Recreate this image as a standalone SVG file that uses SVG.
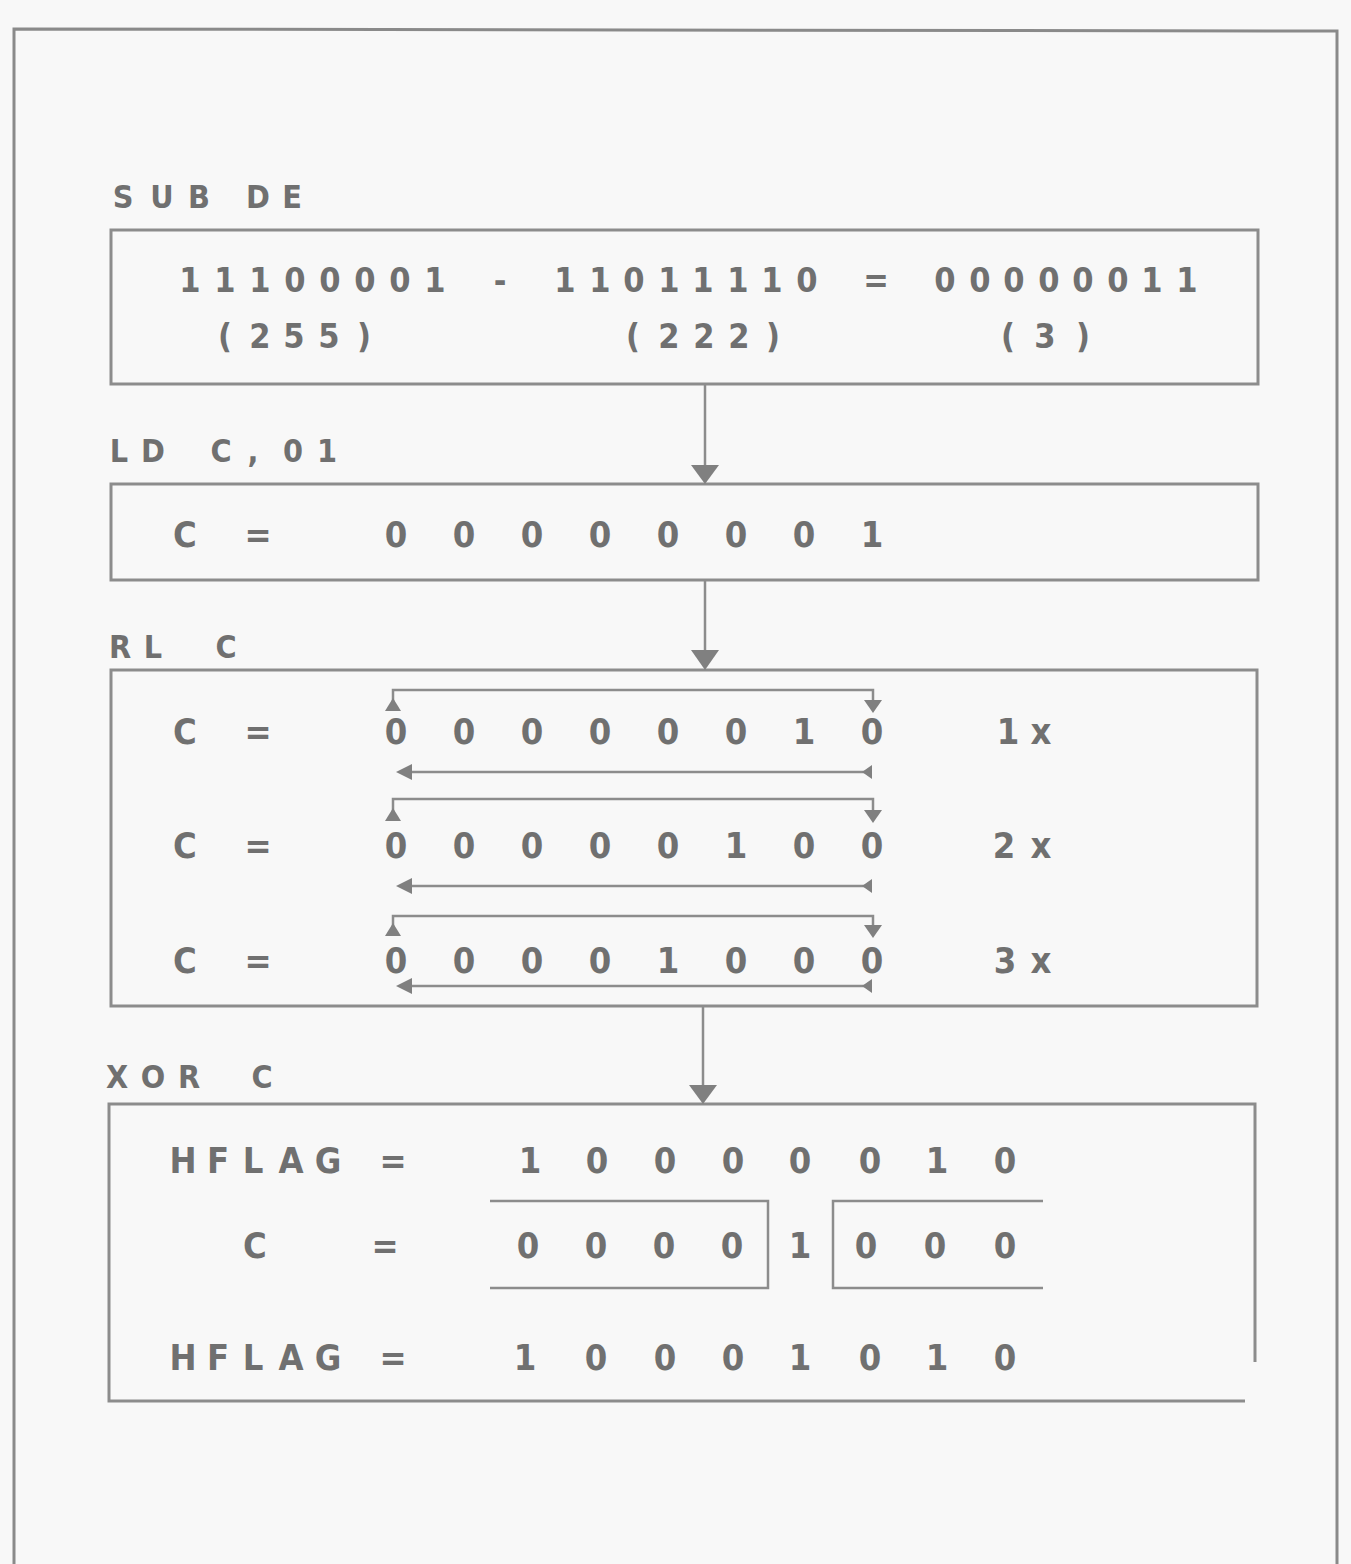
<svg xmlns="http://www.w3.org/2000/svg" width="1351" height="1564" viewBox="0 0 1351 1564">
<style>
.bg{fill:#f8f8f8}
.frame{fill:none;stroke:#8a8a8a;stroke-width:3}
.box{fill:none;stroke:#8c8c8c;stroke-width:3}
.ln{fill:none;stroke:#8c8c8c;stroke-width:2.5}
.ah{fill:#808080}
text{font-family:"DejaVu Sans Condensed","DejaVu Sans",sans-serif;font-weight:bold;fill:#707070;text-anchor:middle}
.lbl{font-size:32px}
.big{font-size:34px}
.dig{font-size:36px}
</style>
<rect class="bg" x="0" y="0" width="1351" height="1564"/>
<g id="frame">
<path class="frame" d="M14,1564 L14,29 L1337,31 L1337,1564"/>
</g>
<g id="node-sub">
<text class="lbl" x="123 162 199 230 258 292" y="208">SUB DE</text>
<rect class="box" x="111" y="230" width="1147" height="154"/>
<text class="big" y="292" x="190 225 260 295 330 365 400 435 467 500 533 565 600 634 669 703 738 772 807 841 876 910 945 980 1014 1049 1083 1118 1152 1187">11100001 - 11011110 = 00000011</text>
<text class="big" y="348" x="225 260 294 329 364">(255)</text>
<text class="big" y="348" x="633 669 704 739 773">(222)</text>
<text class="big" y="348" x="1008 1045 1083">(3)</text>
</g>
<g id="node-ld">
<text class="lbl" x="119 153 186 221 253 293 327" y="462">LD C,01</text>
<rect class="box" x="111" y="484" width="1147" height="96"/>
<text class="dig" y="547" x="185 221 258">C =</text>
<text class="dig" y="547" x="396 430 464 498 532 566 600 634 668 702 736 770 804 838 872">0 0 0 0 0 0 0 1</text>
</g>
<g id="node-rl">
<text class="lbl" x="120 153 190 226" y="658">RL C</text>
<rect class="box" x="111" y="670" width="1146" height="336"/>
<text class="dig" y="744" x="185 221 258">C =</text>
<text class="dig" y="744" x="396 430 464 498 532 566 600 634 668 702 736 770 804 838 872">0 0 0 0 0 0 1 0</text>
<text class="dig" y="744" x="1008 1024 1041">1 x</text>
<text class="dig" y="858" x="185 221 258">C =</text>
<text class="dig" y="858" x="396 430 464 498 532 566 600 634 668 702 736 770 804 838 872">0 0 0 0 0 1 0 0</text>
<text class="dig" y="858" x="1004 1022 1041">2 x</text>
<text class="dig" y="973" x="185 221 258">C =</text>
<text class="dig" y="973" x="396 430 464 498 532 566 600 634 668 702 736 770 804 838 872">0 0 0 0 1 0 0 0</text>
<text class="dig" y="973" x="1005 1022 1041">3 x</text>
</g>
<g id="node-xor">
<text class="lbl" x="117 153 189 225 262" y="1088">XOR C</text>
<path class="box" d="M1245,1401 L109,1401 L109,1104 L1255,1104 L1255,1362"/>
<text class="dig" y="1173" x="183 218 253 291 328 360 393">HFLAG =</text>
<text class="dig" y="1173" x="530 564 597 631 665 699 733 767 800 835 870 903 937 971 1005">1 0 0 0 0 0 1 0</text>
<text class="dig" y="1258" x="255 320 385">C =</text>
<text class="dig" y="1258" x="528 562 596 630 664 698 732 766 800 833 866 900 935 970 1005">0 0 0 0 1 0 0 0</text>
<path class="ln" d="M490,1201 L768,1201 L768,1288 L490,1288"/>
<path class="ln" d="M1043,1201 L833,1201 L833,1288 L1043,1288"/>
<text class="dig" y="1370" x="183 218 253 291 328 360 393">HFLAG =</text>
<text class="dig" y="1370" x="525 560 596 631 665 699 733 767 800 835 870 903 937 971 1005">1 0 0 0 1 0 1 0</text>
</g>
<g id="connectors">
<line class="ln" x1="705" y1="384" x2="705" y2="470"/>
<polygon class="ah" points="691,465 719,465 705,484"/>
<line class="ln" x1="705" y1="580" x2="705" y2="655"/>
<polygon class="ah" points="691,650 719,650 705,670"/>
<line class="ln" x1="703" y1="1006" x2="703" y2="1090"/>
<polygon class="ah" points="689,1085 717,1085 703,1104"/>
<path class="ln" d="M393,708 L393,690 L873,690 L873,702"/>
<polygon class="ah" points="385,711 401,711 393,698"/>
<polygon class="ah" points="864,700 882,700 873,713"/>
<line class="ln" x1="400" y1="772" x2="872" y2="772"/>
<polygon class="ah" points="396,772 412,764 412,780"/>
<polygon class="ah" points="862,772 872,765 872,779"/>
<path class="ln" d="M393,820 L393,799 L873,799 L873,812"/>
<polygon class="ah" points="385,821 401,821 393,808"/>
<polygon class="ah" points="864,810 882,810 873,823"/>
<line class="ln" x1="400" y1="886" x2="872" y2="886"/>
<polygon class="ah" points="396,886 412,878 412,894"/>
<polygon class="ah" points="862,886 872,879 872,893"/>
<path class="ln" d="M393,935 L393,916 L873,916 L873,926"/>
<polygon class="ah" points="385,936 401,936 393,923"/>
<polygon class="ah" points="864,925 882,925 873,938"/>
<line class="ln" x1="400" y1="986" x2="872" y2="986"/>
<polygon class="ah" points="396,986 412,978 412,994"/>
<polygon class="ah" points="862,986 872,979 872,993"/>
</g>
</svg>
